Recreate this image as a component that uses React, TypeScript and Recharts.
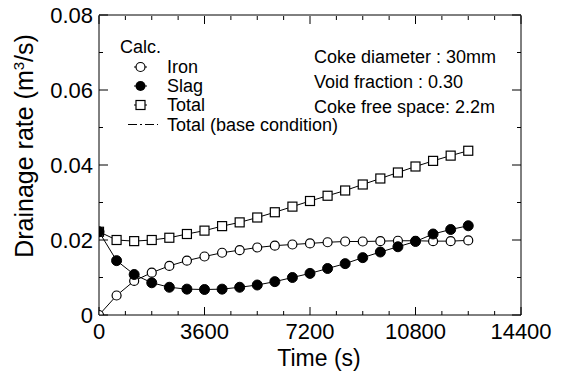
import { LineChart, Line, XAxis, YAxis } from "recharts";

const TIME = [0, 600, 1200, 1800, 2400, 3000, 3600, 4200, 4800, 5400, 6000, 6600, 7200, 7800, 8400, 9000, 9600, 10200, 10800, 11400, 12000, 12600];
const IRON = [0, 0.0052, 0.0091, 0.0113, 0.0131, 0.0145, 0.0156, 0.0166, 0.0173, 0.018, 0.0185, 0.0188, 0.0191, 0.0194, 0.0196, 0.0196, 0.0197, 0.0198, 0.0198, 0.0197, 0.0197, 0.0199];
const SLAG = [0.0222, 0.0145, 0.0108, 0.0086, 0.0074, 0.0069, 0.0068, 0.0069, 0.0074, 0.008, 0.0089, 0.01, 0.0111, 0.0124, 0.0137, 0.0153, 0.0168, 0.0182, 0.0196, 0.0216, 0.0228, 0.0238];
const TOTAL = [0.0222, 0.02, 0.0197, 0.02, 0.0206, 0.0216, 0.0225, 0.0237, 0.0247, 0.026, 0.0274, 0.0289, 0.0304, 0.0318, 0.0332, 0.0348, 0.0364, 0.038, 0.0396, 0.0411, 0.0425, 0.0438];

const X_TICKS = [0, 900, 1800, 2700, 3600, 4500, 5400, 6300, 7200, 8100, 9000, 9900, 10800, 11700, 12600, 13500, 14400];
const X_LABELS = [0, 3600, 7200, 10800, 14400];
const Y_TICKS = [0, 0.01, 0.02, 0.03, 0.04, 0.05, 0.06, 0.07, 0.08];
const Y_LABELS = [0, 0.02, 0.04, 0.06, 0.08];

const FONT = "'Liberation Sans', Arial, sans-serif";

const rows = TIME.map((t, i) => ({ t, iron: IRON[i], slag: SLAG[i], total: TOTAL[i] }));

const BottomTick = ({ x, y, payload }: any) => {
  const major = X_LABELS.includes(payload.value);
  return (
    <g>
      <line x1={x} x2={x} y1={y} y2={y - (major ? 8 : 4)} stroke="#000" />
      {major && (
        <text x={x} y={y + 24} textAnchor="middle" fontSize={22} fontFamily={FONT} fill="#000">
          {payload.value}
        </text>
      )}
    </g>
  );
};

// top axis is 1px tall, so its line sits at y + 1
const TopTick = ({ x, y, payload }: any) => {
  const major = X_LABELS.includes(payload.value);
  return <line x1={x} x2={x} y1={y + 1} y2={y + 1 + (major ? 8 : 4)} stroke="#000" />;
};

const LeftTick = ({ x, y, payload }: any) => {
  const major = Y_LABELS.includes(payload.value);
  return (
    <g>
      <line x1={x} x2={x + (major ? 9 : 4)} y1={y} y2={y} stroke="#000" />
      {major && (
        <text x={x - 6} y={y + 8} textAnchor="end" fontSize={22} fontFamily={FONT} fill="#000">
          {payload.value === 0 ? "0" : payload.value.toFixed(2)}
        </text>
      )}
    </g>
  );
};

const RightTick = ({ x, y, payload }: any) => {
  const major = Y_LABELS.includes(payload.value);
  return <line x1={x} x2={x - (major ? 9 : 4)} y1={y} y2={y} stroke="#000" />;
};

const SquareDot = (props: any) => {
  const { cx, cy, index } = props;
  return <rect key={`sq-${index}`} x={cx - 4.5} y={cy - 4.5} width={9} height={9} fill="#fff" stroke="#000" strokeWidth={1.2} />;
};

const axisCommon = {
  type: "number" as const,
  interval: 0 as const,
  tickSize: 0,
  tickMargin: 0,
  tickLine: false,
  allowDataOverflow: true,
  axisLine: { stroke: "#000", strokeWidth: 1 },
};

export default function App() {
  return (
    <div style={{ position: "absolute", left: 0, top: 0, width: 564, height: 371, background: "#fff" }}>
      <LineChart width={564} height={371} data={rows} margin={{ top: 14, right: 42, bottom: 0, left: 0 }}>
        <XAxis {...axisCommon} dataKey="t" domain={[0, 14400]} ticks={X_TICKS} height={56} tick={<BottomTick />} />
        <XAxis {...axisCommon} xAxisId="top" orientation="top" dataKey="t" domain={[0, 14400]} ticks={X_TICKS} height={1} tick={<TopTick />} />
        <YAxis {...axisCommon} domain={[0, 0.08]} ticks={Y_TICKS} width={99} tick={<LeftTick />} />
        <YAxis {...axisCommon} yAxisId="right" orientation="right" domain={[0, 0.08]} ticks={Y_TICKS} width={1} tick={<RightTick />} />
        <Line dataKey="total" type="linear" stroke="#000" strokeWidth={1} dot={SquareDot} isAnimationActive={false} />
        <Line dataKey="iron" type="linear" stroke="#000" strokeWidth={1} dot={{ r: 4.5, fill: "#fff", stroke: "#000", strokeWidth: 1.2 }} isAnimationActive={false} />
        <Line dataKey="slag" type="linear" stroke="#000" strokeWidth={1} dot={{ r: 5, fill: "#000", stroke: "#000", strokeWidth: 1 }} isAnimationActive={false} />
      </LineChart>
      <svg width={564} height={371} style={{ position: "absolute", left: 0, top: 0, pointerEvents: "none" }} fontFamily={FONT} fill="#000">
        {/* axis titles */}
        <text x={319} y={366} textAnchor="middle" fontSize={23}>Time (s)</text>
        <text transform="translate(33,146) rotate(-90)" textAnchor="middle" fontSize={25}>
          Drainage rate (m<tspan dy={-9} fontSize={15}>3</tspan><tspan dy={9}>/s)</tspan>
        </text>
        {/* legend */}
        <text x={120} y={53} fontSize={18}>Calc.</text>
        <line x1={134} x2={147} y1={67} y2={67} stroke="#000" />
        <circle cx={140.5} cy={67} r={4.5} fill="#fff" stroke="#000" strokeWidth={1.2} />
        <text x={167} y={73} fontSize={18}>Iron</text>
        <line x1={134} x2={147} y1={86} y2={86} stroke="#000" />
        <circle cx={140.5} cy={86} r={5} fill="#000" />
        <text x={167} y={92} fontSize={18}>Slag</text>
        <line x1={134} x2={147} y1={105} y2={105} stroke="#000" />
        <rect x={136} y={100.5} width={9} height={9} fill="#fff" stroke="#000" strokeWidth={1.2} />
        <text x={167} y={111} fontSize={18}>Total</text>
        <line x1={128} x2={158} y1={124.5} y2={124.5} stroke="#000" strokeDasharray="9 3 2 3" />
        <text x={167} y={131} fontSize={18}>Total (base condition)</text>
        {/* conditions */}
        <text x={314} y={63} fontSize={18}>Coke diameter : 30mm</text>
        <text x={314} y={88} fontSize={18}>Void fraction : 0.30</text>
        <text x={314} y={113} fontSize={18}>Coke free space: 2.2m</text>
      </svg>
    </div>
  );
}
